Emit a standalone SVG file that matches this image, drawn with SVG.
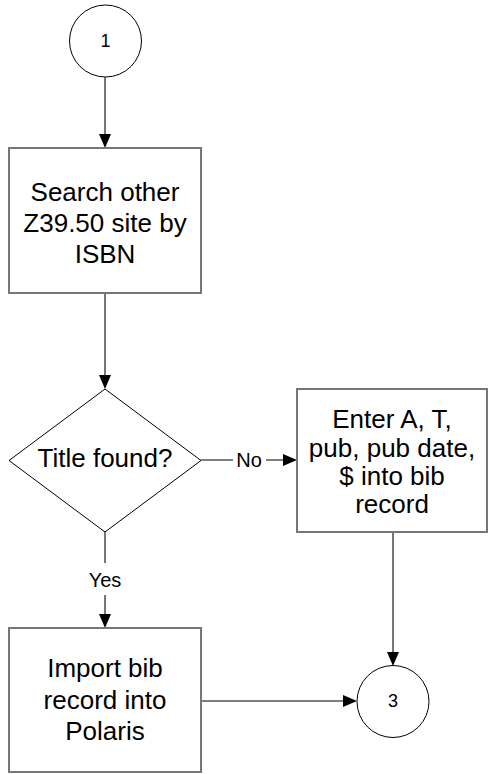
<svg xmlns="http://www.w3.org/2000/svg" width="488" height="774" viewBox="0 0 488 774">
<style>
.box{fill:#fff;stroke:#777;stroke-width:2}
.shape{fill:#fff;stroke:#000;stroke-width:1}
.t{font-family:"Liberation Sans",Arial,sans-serif;font-size:26px;fill:#000;text-anchor:middle}
.s{font-family:"Liberation Sans",Arial,sans-serif;font-size:20px;fill:#000;text-anchor:middle}
.c{font-family:"Liberation Sans",Arial,sans-serif;font-size:18px;fill:#000;text-anchor:middle}
.v{stroke:#777;stroke-width:2;fill:none}
.h{stroke:#000;stroke-width:1;fill:none}
.ah{fill:#000}
</style>
<rect width="488" height="774" fill="#fff"/>
<g id="connectors">
<line class="v" x1="105" y1="77" x2="105" y2="136"/>
<polygon class="ah" points="99,134 111,134 105,148"/>
<line class="v" x1="105" y1="293" x2="105" y2="377"/>
<polygon class="ah" points="99,375 111,375 105,389"/>
<line class="h" x1="201" y1="460" x2="233" y2="460"/>
<text class="s" x="249" y="467">No</text>
<line class="h" x1="266" y1="460" x2="285" y2="460"/>
<polygon class="ah" points="283,454 283,466 297,460"/>
<line class="v" x1="105" y1="532" x2="105" y2="563"/>
<text class="s" x="105" y="587">Yes</text>
<line class="v" x1="105" y1="595" x2="105" y2="616"/>
<polygon class="ah" points="99,614 111,614 105,628"/>
<line class="v" x1="393" y1="532" x2="393" y2="654"/>
<polygon class="ah" points="387,652 399,652 393,666"/>
<line class="h" x1="201" y1="701" x2="345" y2="701"/>
<polygon class="ah" points="343,695 343,707 357,701"/>
</g>
<g id="start1">
<circle class="shape" cx="105.5" cy="41" r="36"/>
<text class="c" x="105.5" y="47">1</text>
</g>
<g id="search">
<rect class="box" x="9" y="148" width="192" height="145"/>
<text class="t" x="105" y="201">Search other</text>
<text class="t" x="105" y="232">Z39.50 site by</text>
<text class="t" x="105" y="263">ISBN</text>
</g>
<g id="decision">
<polygon class="shape" points="105,389 201,460.5 105,532 9,460.5"/>
<text class="t" x="105" y="467">Title found?</text>
</g>
<g id="enter">
<rect class="box" x="297" y="389" width="190" height="143"/>
<text class="t" x="392" y="428">Enter A, T,</text>
<text class="t" x="392" y="456.5">pub, pub date,</text>
<text class="t" x="392" y="485">$ into bib</text>
<text class="t" x="392" y="513">record</text>
</g>
<g id="import">
<rect class="box" x="9" y="628" width="192" height="144"/>
<text class="t" x="105" y="677">Import bib</text>
<text class="t" x="105" y="708.5">record into</text>
<text class="t" x="105" y="740">Polaris</text>
</g>
<g id="end3">
<circle class="shape" cx="393" cy="701.5" r="36"/>
<text class="c" x="393" y="707">3</text>
</g>
</svg>
